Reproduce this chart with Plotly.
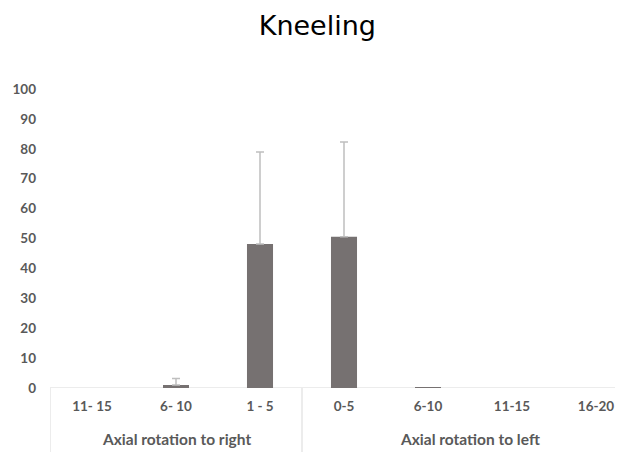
import plotly.graph_objects as go

categories = ["11- 15", "6- 10", "1 - 5", "0-5", "6-10", "11-15", "16-20"]
groups = ["Axial rotation to right", "Axial rotation to left"]
group_sizes = [3, 4]
values = [0, 1.0, 48.2, 50.6, 0.3, 0, 0]
errors = [0, 2.2, 30.7, 31.7, 0, 0, 0]
y_ticks = [0, 10, 20, 30, 40, 50, 60, 70, 80, 90, 100]

x_idx = list(range(len(categories)))

# page body has an 8px margin, so figure is sized/offset accordingly
W, H = 615, 444
ML, MT, MB = 42, 81, 64
PH = H - MT - MB

fig = go.Figure()
# bars
fig.add_trace(go.Bar(
    x=x_idx, y=values,
    marker=dict(color="#767171", line=dict(width=0)),
    width=0.31, hoverinfo="x+y",
))
# error bars only where an error exists (no stray caps on empty categories)
err_x = [x for x, e in zip(x_idx, errors) if e > 0]
err_y = [v for v, e in zip(values, errors) if e > 0]
err_e = [e for e in errors if e > 0]
fig.add_trace(go.Scatter(
    x=err_x, y=err_y, mode="markers", marker=dict(size=0.1, color="rgba(0,0,0,0)"),
    error_y=dict(type="data", array=err_e, arrayminus=[0] * len(err_e), symmetric=False,
                 color="#bfbfbf", thickness=1.5, width=4),
    hoverinfo="skip",
))

label_font = dict(family="Lato, 'Open Sans', sans-serif", size=13.5, color="#595959")
group_font = dict(family="Lato, 'Open Sans', sans-serif", size=15.5, color="#595959")

fig.update_layout(
    width=W, height=H,
    margin=dict(l=ML, r=0, t=MT, b=MB),
    paper_bgcolor="white", plot_bgcolor="white",
    showlegend=False,
    title=dict(text="Kneeling", x=0.503, xanchor="center", y=1 - 18/H, yanchor="middle",
               font=dict(family="DejaVu Sans, Verdana, sans-serif", size=27, color="#000000")),
    xaxis=dict(range=[-0.5, -0.5 + (W - ML) / 84], tickvals=x_idx,
               ticktext=["<b>%s</b>" % c for c in categories],
               showgrid=False, zeroline=False, showline=False, ticks="",
               tickfont=label_font, ticklabelstandoff=8, fixedrange=True),
    yaxis=dict(range=[0, 100], tickvals=y_ticks, ticktext=["<b>%d</b>" % v for v in y_ticks],
               showgrid=False, zeroline=False, showline=False, ticks="",
               tickfont=label_font, ticklabelstandoff=13),
)

# horizontal category axis line at y=0
fig.add_shape(type="line", xref="paper", yref="y", x0=0, x1=1, y0=0, y1=0,
              line=dict(color="#d9d9d9", width=1), layer="below")

# group dividers and group labels
start = 0
bounds = [0]
for gs in group_sizes:
    start += gs
    bounds.append(start)
for b in bounds:
    fig.add_shape(type="line", xref="x", yref="paper", x0=b - 0.5, x1=b - 0.5,
                  y0=0, y1=-MB / PH, line=dict(color="#d9d9d9", width=1))
for i, g in enumerate(groups):
    center = (bounds[i] + bounds[i + 1] - 1) / 2
    fig.add_annotation(x=center, y=-51 / PH, xref="x", yref="paper", text="<b>%s</b>" % g,
                       showarrow=False, font=group_font, yanchor="middle")

fig.write_html("out.html")
